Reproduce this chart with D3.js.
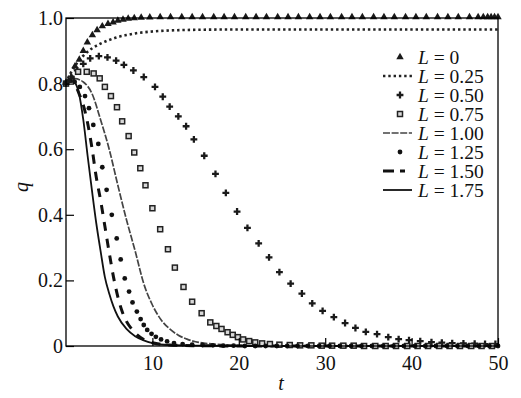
<!DOCTYPE html>
<html><head><meta charset="utf-8">
<script src="https://cdn.jsdelivr.net/npm/d3@7"></script>
<style>
body{margin:0;background:#fff;}
svg text{font-family:"Liberation Serif","Times New Roman","DejaVu Serif",serif;}
</style></head>
<body><div id="chart"></div>
<script>
// ---- data ----
const xTicks = [10, 20, 30, 40, 50];
const xTickLabels = ["10", "20", "30", "40", "50"];
const yTicks = [0, 0.2, 0.4, 0.6, 0.8, 1.0];
const yTickLabels = ["0", "0.2", "0.4", "0.6", "0.8", "1.0"];
const legendLabels = ["0", "0.25", "0.50", "0.75", "1.00", "1.25", "1.50", "1.75"];

// L = 0 (triangles)
const tL000 = [0,0.3,0.66,1.04,1.54,2.0,2.47,3.05,3.6,4.2,4.86,5.45,6.0,6.6,7.2,7.9,8.7,9.7,10.9,12.1,13.4,14.6,15.8,17.1,18.3,19.5,20.8,22.0,23.2,24.5,25.7,26.9,28.2,29.4,30.6,31.9,33.1,34.3,35.6,36.8,38.0,39.3,40.5,41.7,43.0,44.2,45.4,46.7,47.7,48.3,48.8,49.2,49.6,50];
const qL000 = [0.80,0.805,0.815,0.85,0.87,0.897,0.923,0.945,0.96,0.972,0.979,0.984,0.989,0.992,0.995,0.997,0.998,0.999,1,1,1,1,1,1,1,1,1,1,1,1,1,1,1,1,1,1,1,1,1,1,1,1,1,1,1,1,1,1,1,1,1,1,1,1];
// L = 0.25 (dotted line)
const tL025 = [0,0.5,1,1.5,2,2.5,3,3.5,4,5,6,7,8,10,12,15,20,30,50];
const qL025 = [0.80,0.83,0.852,0.87,0.885,0.897,0.907,0.915,0.922,0.933,0.942,0.948,0.953,0.959,0.962,0.964,0.965,0.965,0.965];
// L = 0.50 (crosses)
const tL050 = [0,0.6,1.3,2.0,2.8,3.8,4.8,5.8,6.7,7.8,9.0,10.3,11.2,12.0,13.0,13.9,14.8,16.0,17.3,18.5,19.8,21.0,22.3,23.5,24.7,26.0,27.3,28.5,29.7,31.0,32.3,33.5,34.7,36.0,37.3,38.5,39.7,41.0,42.3,43.5,44.7,46.0,47.3,48.5,49.7];
const qL050 = [0.80,0.82,0.84,0.86,0.877,0.884,0.88,0.87,0.857,0.84,0.82,0.79,0.76,0.73,0.70,0.67,0.63,0.58,0.525,0.467,0.41,0.36,0.313,0.27,0.225,0.19,0.16,0.13,0.107,0.088,0.07,0.055,0.043,0.036,0.027,0.021,0.018,0.015,0.012,0.01,0.009,0.008,0.007,0.006,0.006];
// L = 0.75 (squares)
const tL075 = [0,0.6,1.4,2.4,3.2,3.9,4.5,5.2,5.9,6.5,7.25,7.9,8.6,9.2,10.0,10.9,11.8,12.6,13.6,14.6,15.7,16.7,17.4,18.0,18.7,19.3,19.9,20.5,21.2,21.9,22.7,23.6,24.7,25.9,27.1,28.4,29.6,30.8,32.1,33.3,34.5,35.8,37.0,38.2,39.5,40.7,41.9,43.2,44.4,45.6,46.9,48.1,49.3];
const qL075 = [0.80,0.815,0.836,0.836,0.831,0.816,0.79,0.762,0.728,0.685,0.64,0.59,0.542,0.49,0.42,0.356,0.295,0.239,0.18,0.135,0.10,0.072,0.061,0.052,0.042,0.034,0.027,0.02,0.015,0.011,0.008,0.006,0.004,0.003,0.002,0.002,0.001,0.001,0.001,0.001,0,0,0,0,0,0,0,0,0,0,0,0,0];
// L = 1.00 (grey dashed line)
const tL100 = [0,1,2,3,4,5,6,7,8,9,10,11,12,13,14,15,17,20,25,50];
const qL100 = [0.80,0.815,0.805,0.77,0.69,0.60,0.49,0.385,0.29,0.19,0.125,0.08,0.052,0.033,0.021,0.013,0.006,0.002,0,0];
// L = 1.25 (dots)
const tL125 = [0,0.5,1.0,1.6,2.2,2.66,3.16,3.74,4.2,4.7,5.3,5.87,6.33,6.8,7.3,7.7,8.2,8.64,9.0,9.4,9.9,10.4,11.0,11.7,12.5,13.5,14.6,15.8,17.0,18.2,19.4,20.7,21.9,23.1,24.4,25.6,26.8,28.0,29.3,30.5,31.7,33.0,34.2,35.4,36.7,37.9,39.1,40.4,41.6,42.8,44.1,45.3,46.5,47.8,49.0,50];
const qL125 = [0.80,0.81,0.805,0.79,0.762,0.725,0.674,0.616,0.545,0.476,0.40,0.328,0.264,0.206,0.166,0.133,0.105,0.082,0.064,0.049,0.037,0.028,0.02,0.014,0.009,0.006,0.004,0.003,0.002,0.001,0.001,0,0,0,0,0,0,0,0,0,0,0,0,0,0,0,0,0,0,0,0,0,0,0,0,0];
// L = 1.50 (black dashes)
const tL150 = [0,0.5,1,1.5,2,2.5,3,3.5,4,4.5,5,5.5,6,6.5,7,7.5,8,9,10,12,15,20,30,50];
const qL150 = [0.80,0.81,0.80,0.77,0.735,0.68,0.605,0.515,0.445,0.365,0.285,0.21,0.15,0.105,0.075,0.055,0.04,0.02,0.01,0.003,0.001,0,0,0];
// L = 1.75 (solid line)
const tL175 = [0,0.5,1,1.5,2,2.5,3,3.5,4,4.5,5,5.5,6,7,8,9,10,12,15,20,30,50];
const qL175 = [0.80,0.815,0.805,0.77,0.69,0.58,0.475,0.375,0.29,0.21,0.16,0.12,0.09,0.052,0.03,0.017,0.009,0.003,0.001,0,0,0];

// ---- chart ----
const FONT = "Liberation Serif, Times New Roman, DejaVu Serif, serif";
const W = 521, H = 398;
const m = {left: 66, right: 23, top: 18, bottom: 52};
const svg = d3.select("#chart").append("svg").attr("width", W).attr("height", H);
const x = d3.scaleLinear().domain([0, 50]).range([m.left, W - m.right]);
const y = d3.scaleLinear().domain([0, 1]).range([H - m.bottom, m.top]);

const zip = (ts, qs) => ts.map((t, i) => [t, qs[i]]);
const line = d3.line().x(d => x(d[0])).y(d => y(d[1])).curve(d3.curveMonotoneX);

const gPlot = svg.append("g");

const S025 = {stroke: "#222", w: 2.6, dash: "2.4,2.9"};
const S100 = {stroke: "#444", w: 1.7, dash: "7,1.6"};
const S150 = {stroke: "#111", w: 3, dash: "9,8"};
const S175 = {stroke: "#111", w: 1.8, dash: null};

function drawLine(ts, qs, s) {
  gPlot.append("path").datum(zip(ts, qs)).attr("d", line)
    .attr("fill", "none").attr("stroke", s.stroke).attr("stroke-width", s.w)
    .attr("stroke-dasharray", s.dash);
}
drawLine(tL025, qL025, S025);
drawLine(tL100, qL100, S100);
drawLine(tL150, qL150, S150);
drawLine(tL175, qL175, S175);

// markers
const tri = d3.symbol().type(d3.symbolTriangle).size(24)();
const cross = d3.symbol().type(d3.symbolCross).size(26)();

gPlot.append("g").selectAll("path").data(zip(tL050, qL050)).join("path")
  .attr("d", cross).attr("transform", d => `translate(${x(d[0])},${y(d[1])})`).attr("fill", "#1a1a1a");
gPlot.append("g").selectAll("rect").data(zip(tL075, qL075)).join("rect")
  .attr("x", d => x(d[0]) - 2.5).attr("y", d => y(d[1]) - 2.5).attr("width", 5).attr("height", 5)
  .attr("fill", "#d8d8d8").attr("stroke", "#222").attr("stroke-width", 1.5);
gPlot.append("g").selectAll("circle").data(zip(tL125, qL125)).join("circle")
  .attr("cx", d => x(d[0])).attr("cy", d => y(d[1])).attr("r", 2.4).attr("fill", "#111");
gPlot.append("g").selectAll("path").data(zip(tL000, qL000)).join("path")
  .attr("d", tri).attr("transform", d => `translate(${x(d[0])},${y(d[1]) - 1})`).attr("fill", "#1a1a1a");

// frame
svg.append("rect").attr("x", m.left).attr("y", m.top)
  .attr("width", W - m.left - m.right).attr("height", H - m.top - m.bottom)
  .attr("fill", "none").attr("stroke", "#000").attr("stroke-width", 1.3);

// axes
const xAxis = d3.axisBottom(x).tickValues(xTicks).tickFormat((d, i) => xTickLabels[i]).tickSize(-8).tickPadding(10);
const yAxis = d3.axisLeft(y).tickValues(yTicks).tickFormat((d, i) => yTickLabels[i]).tickSize(-8).tickPadding(3);
const gx = svg.append("g").attr("transform", `translate(0,${H - m.bottom})`).call(xAxis);
const gy = svg.append("g").attr("transform", `translate(${m.left},0)`).call(yAxis);
[gx, gy].forEach(g => {
  g.attr("font-family", FONT).attr("font-size", 20);
  g.select(".domain").remove();
  g.selectAll(".tick line").attr("stroke", "#000").attr("stroke-width", 1.2);
  g.selectAll(".tick text").style("font-family", FONT).attr("font-size", 20).attr("fill", "#111");
});

// axis titles
svg.append("text").attr("x", 281).attr("y", 390).attr("text-anchor", "middle").style("font-family", FONT)
  .attr("font-size", 20).attr("font-style", "italic").attr("fill", "#111").text("t");
svg.append("text").attr("transform", "translate(28,187) rotate(-90)").attr("text-anchor", "middle").style("font-family", FONT)
  .attr("font-size", 20).attr("font-style", "italic").attr("fill", "#111").text("q");

// legend
const lg = svg.append("g");
const ly0 = 57, ldy = 19, lsx = 400, lx1 = 383, lx2 = 412, ltx = 418;
legendLabels.forEach((lab, i) => {
  const cy = ly0 + i * ldy;
  const t = lg.append("text").attr("x", ltx).attr("y", cy + 6.5).style("font-family", FONT)
    .attr("font-size", 19.5).attr("fill", "#111");
  t.append("tspan").attr("font-style", "italic").text("L");
  t.append("tspan").text(" = " + lab);
});
function legLine(i, s) {
  lg.append("line").attr("x1", lx1).attr("x2", lx2).attr("y1", ly0 + i * ldy).attr("y2", ly0 + i * ldy)
    .attr("stroke", s.stroke).attr("stroke-width", s.w).attr("stroke-dasharray", s.dash);
}
lg.append("path").attr("d", tri).attr("transform", `translate(${lsx},${ly0})`).attr("fill", "#1a1a1a");
legLine(1, S025);
lg.append("path").attr("d", cross).attr("transform", `translate(${lsx},${ly0 + 2 * ldy})`).attr("fill", "#1a1a1a");
lg.append("rect").attr("x", lsx - 2.5).attr("y", ly0 + 3 * ldy - 2.5).attr("width", 5).attr("height", 5)
  .attr("fill", "#d8d8d8").attr("stroke", "#222").attr("stroke-width", 1.5);
legLine(4, S100);
lg.append("circle").attr("cx", lsx).attr("cy", ly0 + 5 * ldy).attr("r", 2.4).attr("fill", "#111");
legLine(6, {stroke: "#111", w: 3, dash: "11,6,5,20"});
legLine(7, S175);
</script>
</body></html>
